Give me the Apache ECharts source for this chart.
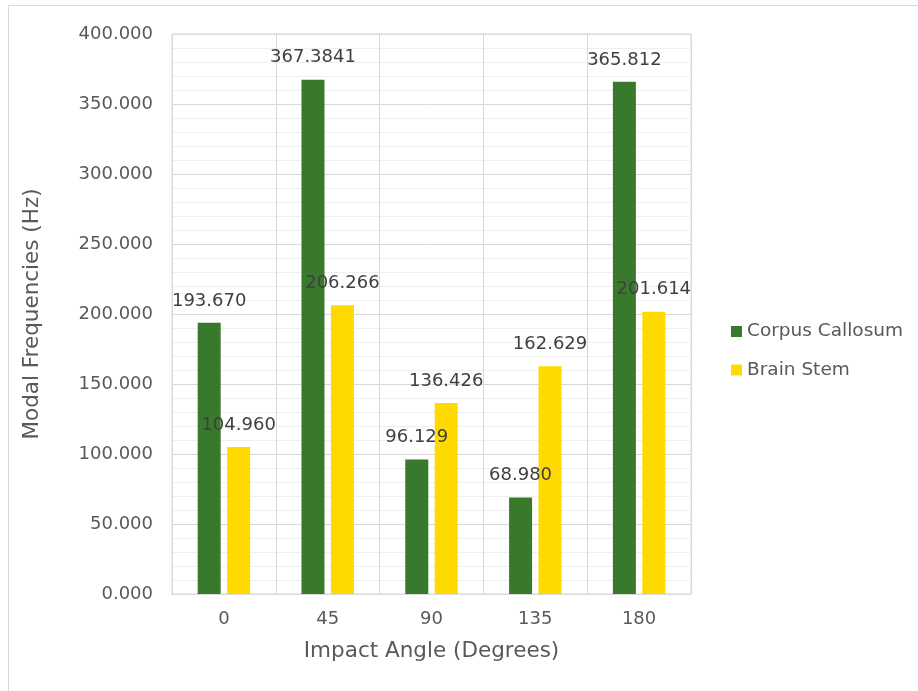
<!DOCTYPE html>
<html>
<head>
<meta charset="utf-8">
<title>Modal Frequencies by Impact Angle</title>
<script src="https://cdn.jsdelivr.net/npm/echarts@6/dist/echarts.min.js"></script>
<style>
  html, body { margin: 0; padding: 0; background: #ffffff; }
  #chart { width: 918px; height: 691px; }
</style>
</head>
<body>
<div id="chart"></div>
<script>
// Impact angles (degrees) along the category axis
const angles = ['0', '45', '90', '135', '180'];

// Modal frequencies (Hz) per region
const corpusCallosum = [193.670, 367.3841, 96.129, 68.980, 365.812];
const brainStem = [104.960, 206.266, 136.426, 162.629, 201.614];

// Label text as printed on each bar
const corpusLabels = ['193.670', '367.3841', '96.129', '68.980', '365.812'];
const stemLabels = ['104.960', '206.266', '136.426', '162.629', '201.614'];

const seriesNames = ['Corpus Callosum', 'Brain Stem'];

const FONT = '"DejaVu Sans", Verdana, sans-serif';
const chart = echarts.init(document.getElementById('chart'), null, { renderer: 'canvas' });

function labelled(values, texts) {
  return values.map((v, i) => ({ value: v, label: { formatter: texts[i] } }));
}

chart.setOption({
  animation: false,
  backgroundColor: '#ffffff',
  textStyle: { fontFamily: FONT },
  graphic: [{
    type: 'rect',
    shape: { x: 8.5, y: 5.5, width: 1000, height: 1000 },
    style: { fill: 'none', stroke: '#d9d9d9', lineWidth: 1 },
    silent: true
  }],
  grid: {
    left: 172, right: 227, top: 34, bottom: 97,
    show: true, borderColor: '#d9d9d9', borderWidth: 1,
    containLabel: false
  },
  legend: {
    orient: 'vertical',
    left: 726, top: 317,
    itemWidth: 11, itemHeight: 11, itemGap: 19.5,
    itemTextGap: 4,
    icon: 'rect',
    textStyle: { fontFamily: FONT, fontSize: 18.5, color: '#595959' },
    data: seriesNames
  },
  xAxis: {
    type: 'category',
    data: angles,
    boundaryGap: true,
    name: 'Impact Angle (Degrees)',
    nameLocation: 'middle',
    nameGap: 46,
    nameTextStyle: { fontFamily: FONT, fontSize: 21.5, color: '#595959' },
    axisLine: { show: true, lineStyle: { color: '#d9d9d9', width: 1 } },
    axisTick: { show: false },
    axisLabel: { fontFamily: FONT, fontSize: 18, color: '#595959', margin: 16 },
    splitLine: { show: true, lineStyle: { color: '#d9d9d9', width: 1 } }
  },
  yAxis: {
    type: 'value',
    min: 0, max: 400, interval: 50,
    name: 'Modal Frequencies (Hz)',
    nameLocation: 'middle',
    nameGap: 129,
    nameTextStyle: { fontFamily: FONT, fontSize: 21.5, color: '#595959' },
    axisLine: { show: false },
    axisTick: { show: false },
    axisLabel: {
      fontFamily: FONT, fontSize: 18, color: '#595959', margin: 19,
      formatter: v => v.toFixed(3)
    },
    splitLine: { show: true, lineStyle: { color: '#d9d9d9', width: 1 } },
    minorTick: { show: false, splitNumber: 5 },
    minorSplitLine: { show: true, lineStyle: { color: '#efefef', width: 1 } }
  },
  series: [
    {
      name: seriesNames[0],
      type: 'bar',
      data: labelled(corpusCallosum, corpusLabels),
      barWidth: 23,
      barGap: '28%',
      itemStyle: { color: '#38792c' },
      label: {
        show: true, position: 'top', distance: 13,
        fontFamily: FONT, fontSize: 18, color: '#404040'
      }
    },
    {
      name: seriesNames[1],
      type: 'bar',
      data: labelled(brainStem, stemLabels),
      barWidth: 23,
      barGap: '28%',
      itemStyle: { color: '#ffda00' },
      label: {
        show: true, position: 'top', distance: 13,
        fontFamily: FONT, fontSize: 18, color: '#404040'
      }
    }
  ]
});
</script>
</body>
</html>
